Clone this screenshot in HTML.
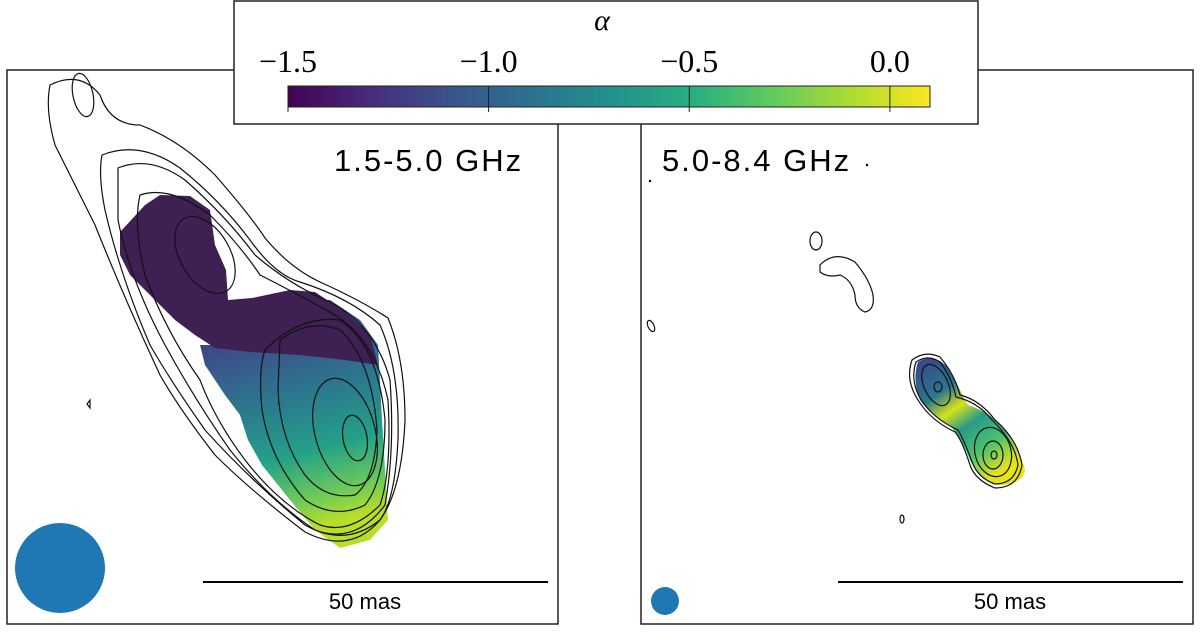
<!DOCTYPE html>
<html><head><meta charset="utf-8"><style>
body{margin:0;background:#fff;width:1200px;height:632px;overflow:hidden}
svg{display:block;font-family:"Liberation Sans",sans-serif}
</style></head><body>
<svg width="1200" height="632" viewBox="0 0 1200 632">
<defs>
<linearGradient id="vir" x1="0" x2="1" y1="0" y2="0">
<stop offset="0" stop-color="#440154"/><stop offset="0.13" stop-color="#472d7b"/><stop offset="0.25" stop-color="#3b528b"/><stop offset="0.38" stop-color="#2c728e"/><stop offset="0.5" stop-color="#21918c"/><stop offset="0.63" stop-color="#28ae80"/><stop offset="0.75" stop-color="#5ec962"/><stop offset="0.88" stop-color="#addc30"/><stop offset="1" stop-color="#fde725"/>
</linearGradient>
<linearGradient id="lowgrad" x1="0" y1="0" x2="0.2" y2="1">
<stop offset="0" stop-color="#3f2a6e"/><stop offset="0.25" stop-color="#3b528b"/><stop offset="0.5" stop-color="#2a7d8e"/><stop offset="0.7" stop-color="#24a187"/><stop offset="0.88" stop-color="#6cca5a"/><stop offset="1" stop-color="#b8de29"/>
</linearGradient>
<linearGradient id="rgrad" x1="0" y1="0" x2="0.6" y2="1">
<stop offset="0" stop-color="#3b3f8a"/><stop offset="0.3" stop-color="#2a788e"/><stop offset="0.45" stop-color="#d6e21a"/><stop offset="0.6" stop-color="#2a9a88"/><stop offset="0.8" stop-color="#4cc26c"/><stop offset="1" stop-color="#e6e419"/>
</linearGradient>
</defs>

<g>
<rect x="7" y="70" width="551" height="554" fill="#fff" stroke="#222" stroke-width="1.5"/>
<path fill="url(#lowgrad)" d="M200,345 L262,345 L300,300 L330,300 L360,320 L378,345 L382,420 L388,520 L370,540 L340,548 L315,530 L290,500 L262,465 L248,440 L240,415 L225,395 L205,365Z"/>
<path fill="#3e2152" d="M120,232 L145,205 L160,195 L190,196 L210,210 L215,245 L226,270 L228,300 L252,298 L290,290 L315,292 L345,312 L370,335 L378,365 L345,360 L300,355 L250,352 L215,348 L195,335 L175,320 L155,300 L130,275 L120,255Z"/>
<g fill="none" stroke="#111" stroke-width="1.2">
<path d="M50,85 Q80,70 100,95 Q110,125 140,125 Q180,140 215,175 Q250,215 265,238 Q290,268 320,282 Q360,300 388,318 Q405,360 405,420 Q402,490 380,520 Q350,555 305,532 Q250,490 215,455 Q180,410 160,375 Q125,300 95,225 Q70,175 55,145 Q45,110 50,85Z"/>
<path d="M102,155 Q140,140 180,168 Q220,200 250,240 Q275,275 300,282 Q350,298 380,325 Q400,370 398,440 Q395,500 380,520 Q345,548 305,525 Q250,480 205,430 Q170,380 150,345 Q120,275 105,210 Q98,175 102,155Z"/>
<path d="M118,168 Q150,155 185,180 Q225,215 255,255 Q290,285 330,302 Q375,325 390,380 Q395,450 385,505 Q355,545 315,530 Q270,500 230,450 Q195,400 165,345 Q130,280 118,220Z"/>
<path d="M140,195 Q170,185 210,215 Q240,245 260,275 Q290,290 335,315 Q375,340 388,400 Q392,470 380,505 Q350,535 320,525 Q280,505 245,460 Q215,420 200,380 Q165,330 145,275 Q133,225 140,195Z"/>
<ellipse cx="205" cy="255" rx="25" ry="42" transform="rotate(-30 205 255)"/>
<path d="M265,350 Q300,315 340,320 Q378,345 385,420 Q385,480 365,505 Q335,520 305,500 Q270,460 262,410 Q258,370 265,350Z"/>
<path d="M280,340 Q310,318 340,330 Q372,360 377,430 Q375,480 355,495 Q325,500 305,475 Q280,440 278,390Z"/>
<ellipse cx="345" cy="432" rx="30" ry="55" transform="rotate(-15 345 432)"/>
<ellipse cx="355" cy="438" rx="12" ry="23" transform="rotate(-10 355 438)"/>
<ellipse cx="83" cy="95" rx="10" ry="22" transform="rotate(-12 83 95)"/>
<path d="M90,400 l-3,4 l3,4 z"/>
</g>
<circle cx="60" cy="568" r="45" fill="#1f77b4"/>
<line x1="203" y1="582" x2="548" y2="582" stroke="#000" stroke-width="2"/>
<text x="365" y="609" font-size="22" text-anchor="middle">50 mas</text>
<text x="334" y="171" font-size="31" letter-spacing="2">1.5-5.0 GHz</text>
</g>

<g>
<rect x="641" y="70" width="552" height="554" fill="#fff" stroke="#222" stroke-width="1.5"/>
<path fill="url(#rgrad)" d="M918,362 Q935,352 950,370 Q962,395 968,405 Q990,412 1005,430 Q1022,455 1025,470 Q1022,485 1000,485 Q980,480 970,460 Q962,440 950,425 Q930,415 920,400 Q912,380 918,362Z"/>
<g fill="none" stroke="#111" stroke-width="1.2">
<path d="M912,360 Q925,350 940,357 Q955,375 960,395 Q980,400 995,420 Q1018,440 1022,465 Q1018,488 995,488 Q975,480 970,465 Q962,440 955,432 Q930,420 918,400 Q905,380 912,360Z"/>
<path d="M916,362 Q928,354 940,362 Q952,378 956,397 Q978,402 992,420 Q1015,442 1018,465 Q1014,484 995,484 Q978,478 972,462 Q965,442 958,430 Q932,418 920,398 Q910,380 916,362Z"/>
<ellipse cx="936" cy="385" rx="12" ry="22" transform="rotate(-25 936 385)"/>
<ellipse cx="938" cy="387" rx="4" ry="5"/>
<ellipse cx="993" cy="452" rx="18" ry="25" transform="rotate(-15 993 452)"/>
<ellipse cx="993" cy="455" rx="10" ry="14"/>
<ellipse cx="994" cy="455" rx="3" ry="4"/>
<ellipse cx="816" cy="241" rx="6" ry="9"/>
<path d="M820,265 Q835,250 855,262 Q870,280 873,295 Q875,310 865,312 Q855,308 855,295 Q852,280 840,275 Q828,278 820,272Z"/>
<ellipse cx="651" cy="326" rx="3" ry="6" transform="rotate(-25 651 326)"/>
<ellipse cx="902" cy="519" rx="2" ry="4"/>
</g>
<circle cx="665" cy="601" r="14" fill="#1f77b4"/>
<line x1="838" y1="582" x2="1183" y2="582" stroke="#000" stroke-width="2"/>
<text x="1010" y="609" font-size="22" text-anchor="middle">50 mas</text>
<text x="662" y="171" font-size="31" letter-spacing="2">5.0-8.4 GHz</text>
<circle cx="867" cy="165" r="1.2" fill="#000"/><circle cx="650" cy="181" r="1.2" fill="#000"/>
</g>

<g>
<rect x="234" y="1" width="744" height="123" fill="#fff" stroke="#222" stroke-width="1.5"/>
<text x="602" y="30" font-size="30" font-family="Liberation Serif,serif" font-style="italic" text-anchor="middle">α</text>
<rect x="288" y="86" width="642" height="21" fill="url(#vir)" stroke="#222" stroke-width="1"/>
<g id="cbticks"></g>
</g>
</svg>
<script>
const tickValues = [-1.5, -1.0, -0.5, 0.0];
const tickLabels = ["\u22121.5", "\u22121.0", "\u22120.5", "0.0"];
const cbMin = -1.5, cbMax = 0.1;
function cbX(v){ return 288 + (v - cbMin) / (cbMax - cbMin) * 642; }
const g = document.getElementById('cbticks');
const ns = 'http://www.w3.org/2000/svg';
tickValues.forEach((v, i) => {
  const l = document.createElementNS(ns, 'line');
  l.setAttribute('x1', cbX(v)); l.setAttribute('x2', cbX(v));
  l.setAttribute('y1', 86); l.setAttribute('y2', 112);
  l.setAttribute('stroke', '#222'); l.setAttribute('stroke-width', '1');
  
  
  g.appendChild(l);
  const t = document.createElementNS(ns, 'text');
  t.setAttribute('x', cbX(v)); t.setAttribute('y', 72);
  t.setAttribute('font-size', '32');
  t.setAttribute('font-family', 'Liberation Serif,serif');
  t.setAttribute('text-anchor', 'middle');
  t.textContent = tickLabels[i];
  
  
  g.appendChild(t);
});
</script>
</body></html>
